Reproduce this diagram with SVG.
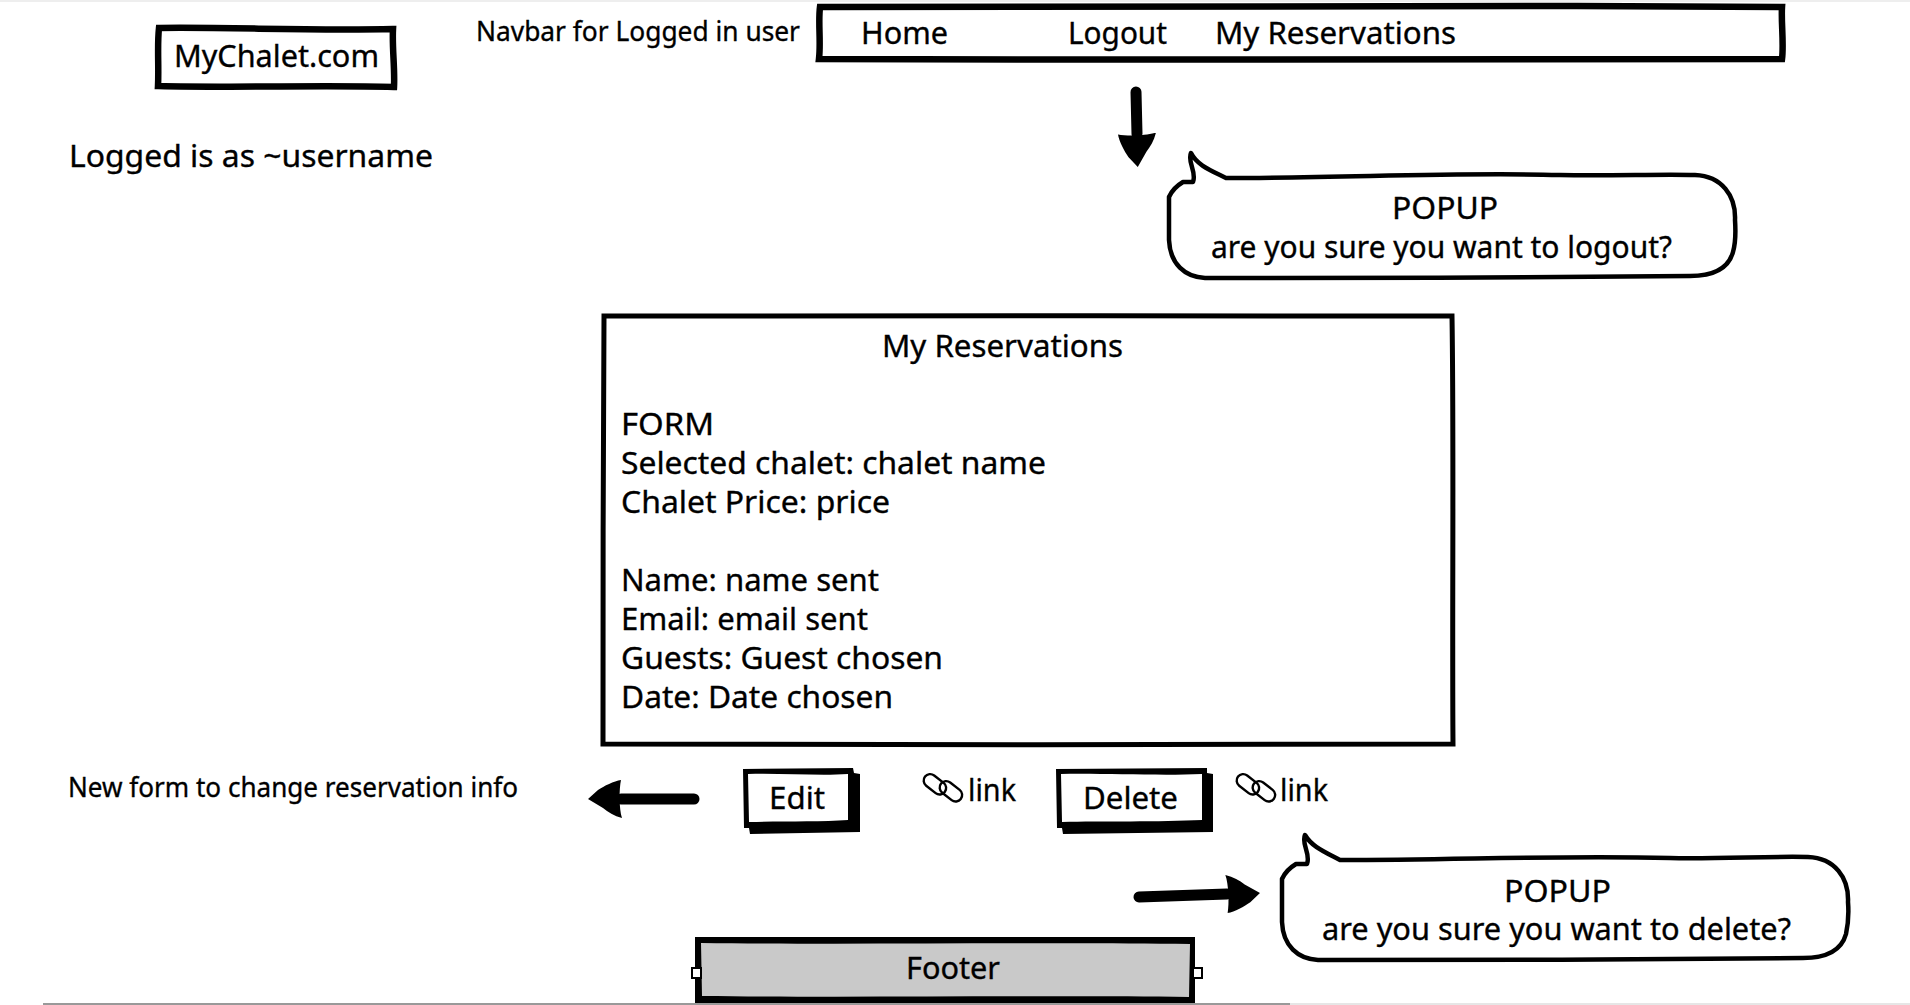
<svg xmlns="http://www.w3.org/2000/svg" width="1910" height="1005" viewBox="0 0 1910 1005">
<style>
text{font-family:"Noto Sans","Lato","Liberation Sans",sans-serif;fill:#000;stroke:#000;stroke-width:.35}
.t30{font-size:31px}
.t27{font-size:28px}
.box{fill:#fff;stroke:#000;stroke-width:5;stroke-linejoin:miter}
.box.heavy{stroke-width:6.5}
.bubble{fill:#fff;stroke:#000;stroke-width:4.5;stroke-linejoin:round}
.arrow{fill:none;stroke:#000;stroke-width:11;stroke-linecap:round;marker-end:url(#head)}
.handle{fill:#fff;stroke:#000;stroke-width:2}
.chain{fill:none;stroke:#000;stroke-width:2.4}
</style>
<defs>
<marker id="head" markerUnits="userSpaceOnUse" markerWidth="40" markerHeight="42" viewBox="0 -21 40 42" refX="1" refY="0" orient="auto">
<path d="M0,-19 C8,-17 14,-13 19,-9 L34,0 L24,9 C18,13 8,18 1,19 C3,10 3,-10 0,-19Z" fill="#000"/>
</marker>
<g id="chainIcon">
<rect x="1" y="-18" width="13" height="25" rx="6.5" class="chain" transform="rotate(-52 7 -5)"/>
<rect x="17" y="-11" width="13" height="25" rx="6.5" class="chain" transform="rotate(-52 23 2)"/>
</g>
</defs>
<rect width="1910" height="1005" fill="#fff"/>
<rect width="1910" height="2" fill="#eee"/>
<rect x="43" y="1003" width="1247" height="2" fill="#999"/>
<rect x="1290" y="1003" width="620" height="2" fill="#e6e6e6"/>

<g id="logo">
<path class="box heavy" d="M159,28 C230,27 310,31 393,29 C392,48 395,68 394,87 C320,85 240,88 158,86 C159,66 157,46 159,28Z"/>
<text class="t30" x="174" y="67" textLength="205" lengthAdjust="spacingAndGlyphs">MyChalet.com</text>
</g>
<g id="navbar-label">
<text class="t27" x="476" y="41" textLength="324" lengthAdjust="spacingAndGlyphs">Navbar for Logged in user</text>
</g>
<g id="navbar">
<path class="box heavy" d="M820,7 C1100,9 1450,4 1782,7 C1781,22 1784,44 1782,59 C1500,57 1150,61 819,59 C821,42 818,22 820,7Z"/>
<text class="t30" x="861" y="44" textLength="87" lengthAdjust="spacingAndGlyphs">Home</text>
<text class="t30" x="1068" y="44" textLength="99" lengthAdjust="spacingAndGlyphs">Logout</text>
<text class="t30" x="1215" y="44" textLength="241" lengthAdjust="spacingAndGlyphs">My Reservations</text>
</g>
<g id="user-label">
<text class="t30" x="69" y="167" textLength="364" lengthAdjust="spacingAndGlyphs">Logged is as ~username</text>
</g>
<g id="logout-popup">
<path class="bubble" d="M1191,153 C1197,165 1210,170 1226,178 C1350,178 1450,172 1560,175 C1610,176 1660,174 1695,175 C1722,176 1736,196 1735,220 C1736,235 1735,245 1733,252 C1728,270 1710,276 1690,276 C1550,278 1350,278 1205,278 C1185,277 1170,264 1169,240 L1169,197 C1172,190 1178,185 1183,182 L1193,182 C1197,172 1187,162 1191,153Z"/>
<text class="t30" x="1392" y="219" textLength="106" lengthAdjust="spacingAndGlyphs">POPUP</text>
<text class="t30" x="1211" y="258" textLength="461" lengthAdjust="spacingAndGlyphs">are you sure you want to logout?</text>
</g>
<g id="reservations-form">
<path class="box" d="M604,316 C850,314 1180,317 1452,316 C1454,440 1452,620 1453,744 C1200,746 850,744 603,744 C602,620 604,440 604,316Z"/>
<text class="t30" x="882" y="357" textLength="241" lengthAdjust="spacingAndGlyphs">My Reservations</text>
<text class="t30" x="621" y="435" textLength="93" lengthAdjust="spacingAndGlyphs">FORM</text>
<text class="t30" x="621" y="474" textLength="425" lengthAdjust="spacingAndGlyphs">Selected chalet: chalet name</text>
<text class="t30" x="621" y="513" textLength="269" lengthAdjust="spacingAndGlyphs">Chalet Price: price</text>
<text class="t30" x="621" y="591" textLength="258" lengthAdjust="spacingAndGlyphs">Name: name sent</text>
<text class="t30" x="621" y="630" textLength="247" lengthAdjust="spacingAndGlyphs">Email: email sent</text>
<text class="t30" x="621" y="669" textLength="322" lengthAdjust="spacingAndGlyphs">Guests: Guest chosen</text>
<text class="t30" x="621" y="708" textLength="272" lengthAdjust="spacingAndGlyphs">Date: Date chosen</text>
</g>
<g id="edit-label">
<text class="t27" x="68" y="797" textLength="450" lengthAdjust="spacingAndGlyphs">New form to change reservation info</text>
</g>
<g id="edit-button">
<path d="M743,769 L853,768 L854,773 L860,774 L860,832 L750,834 L749,828 L744,828Z" fill="#000"/>
<path d="M748,774 C780,773 820,776 848,774 L848,820 C820,822 780,821 749,822Z" fill="#fff"/>
<text class="t30" x="769" y="809" textLength="56" lengthAdjust="spacingAndGlyphs">Edit</text>
</g>
<g id="edit-link">
<use href="#chainIcon" x="928" y="790"/>
<text class="t30" x="968" y="801" textLength="48" lengthAdjust="spacingAndGlyphs">link</text>
</g>
<g id="delete-button">
<path d="M1056,769 L1207,768 L1207,773 L1213,774 L1213,832 L1063,834 L1062,828 L1057,828Z" fill="#000"/>
<path d="M1061,774 C1100,773 1160,776 1202,774 L1202,820 C1160,822 1100,821 1062,822Z" fill="#fff"/>
<text class="t30" x="1083" y="809" textLength="95" lengthAdjust="spacingAndGlyphs">Delete</text>
</g>
<g id="delete-link">
<use href="#chainIcon" x="1241" y="790"/>
<text class="t30" x="1280" y="801" textLength="48" lengthAdjust="spacingAndGlyphs">link</text>
</g>
<g id="delete-popup">
<path class="bubble" d="M1305,835 C1312,847 1325,852 1340,860 C1460,860 1560,855 1670,858 C1720,859 1770,856 1808,857 C1835,858 1849,878 1848,902 C1849,915 1848,925 1846,934 C1841,952 1823,958 1803,958 C1660,960 1460,960 1318,960 C1298,959 1283,946 1282,922 L1282,879 C1285,872 1291,867 1296,864 L1307,864 C1311,854 1301,844 1305,835Z"/>
<text class="t30" x="1504" y="902" textLength="107" lengthAdjust="spacingAndGlyphs">POPUP</text>
<text class="t30" x="1322" y="940" textLength="469" lengthAdjust="spacingAndGlyphs">are you sure you want to delete?</text>
</g>
<g id="footer">
<rect x="695" y="937" width="500" height="66" fill="#000"/>
<path d="M701,943 C850,945 1050,942 1190,944 L1189,997 C1050,995 850,998 702,996Z" fill="#c9c9c9"/>
<rect class="handle" x="692" y="968" width="9" height="10"/>
<rect class="handle" x="1193" y="968" width="9" height="10"/>
<text class="t30" x="906" y="979" textLength="94" lengthAdjust="spacingAndGlyphs">Footer</text>
</g>
<g id="connectors">
<path class="arrow" d="M1136,92 L1137,134"/>
<path class="arrow" d="M694,799 L621,799"/>
<path class="arrow" d="M1139,897 L1227,894"/>
</g>
</svg>
